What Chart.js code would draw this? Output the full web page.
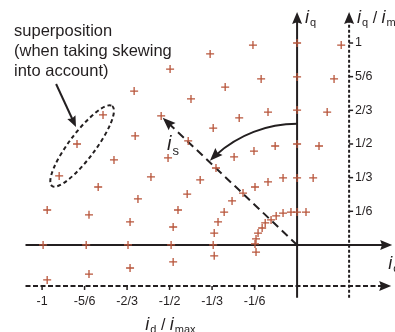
<!DOCTYPE html>
<html>
<head>
<meta charset="utf-8">
<script src="https://cdn.jsdelivr.net/npm/chart.js@4/dist/chart.umd.min.js"></script>
<style>
  html, body { margin: 0; padding: 0; background: #fff; }
  #wrap { width: 395px; height: 332px; }
</style>
</head>
<body>
<div id="wrap"><canvas id="c" width="395" height="332"></canvas></div>
<script>
// --- DATA (id / imax , iq / imax), one ring per current magnitude ---
const ring1_d   = [0.173, 0, -0.173, -0.341, -0.498, -0.639, -0.761, -0.863, -0.933, -0.980, -0.996, -0.980];
const ring1_q   = [0.990, 1.000, 0.990, 0.946, 0.871, 0.762, 0.644, 0.500, 0.342, 0.173, 0, -0.173];
const ring56_d  = [0.145, 0, -0.141, -0.282, -0.416, -0.533, -0.635, -0.718, -0.780, -0.816, -0.827, -0.816];
const ring56_q  = [0.822, 0.832, 0.822, 0.782, 0.723, 0.639, 0.540, 0.421, 0.287, 0.149, 0, -0.144];
const ring23_d  = [0.118, 0, -0.114, -0.227, -0.329, -0.427, -0.506, -0.573, -0.624, -0.655, -0.663, -0.655];
const ring23_q  = [0.658, 0.668, 0.658, 0.629, 0.579, 0.515, 0.431, 0.337, 0.228, 0.114, 0, -0.114];
const ring12_d  = [0.086, 0, -0.086, -0.169, -0.247, -0.318, -0.380, -0.431, -0.467, -0.486, -0.494, -0.486];
const ring12_q  = [0.490, 0.500, 0.490, 0.465, 0.436, 0.381, 0.322, 0.252, 0.173, 0.089, 0, -0.084];
const ring13_d  = [0.063, 0, -0.055, -0.114, -0.165, -0.212, -0.255, -0.286, -0.310, -0.325, -0.329, -0.325];
const ring13_q  = [0.332, 0.332, 0.332, 0.312, 0.287, 0.257, 0.218, 0.163, 0.114, 0.059, 0, -0.054];
const ring16_d  = [0.035, 0, -0.024, -0.055, -0.082, -0.102, -0.125, -0.137, -0.153, -0.161, -0.165, -0.161];
const ring16_q  = [0.163, 0.163, 0.163, 0.158, 0.144, 0.124, 0.109, 0.084, 0.059, 0.030, 0.005, -0.035];

const dTicks      = [-1, -5/6, -2/3, -1/2, -1/3, -1/6];
const dTickLabels = ['-1', '-5/6', '-2/3', '-1/2', '-1/3', '-1/6'];
const qTicks      = [1, 5/6, 2/3, 1/2, 1/3, 1/6];
const qTickLabels = ['1', '5/6', '2/3', '1/2', '1/3', '1/6'];

const noteLines = ['superposition', '(when taking skewing', 'into account)'];

// --- STYLE ---
const RED = '#b8553b';
const INK = '#231f20';
const FONT = '"Liberation Sans", Arial, sans-serif';

const rings = [
  [ring1_d, ring1_q], [ring56_d, ring56_q], [ring23_d, ring23_q],
  [ring12_d, ring12_q], [ring13_d, ring13_q], [ring16_d, ring16_q]
];
const points = [];
rings.forEach(([d, q]) => d.forEach((v, i) => points.push({ x: v, y: q[i] })));

// --- DRAW HELPERS ---
function arrowHead(ctx, x, y, ang, len, half) {
  ctx.save();
  ctx.translate(x, y);
  ctx.rotate(ang);
  ctx.beginPath();
  ctx.moveTo(0, 0);
  ctx.lineTo(-len, -half);
  ctx.lineTo(-len * 0.85, 0);
  ctx.lineTo(-len, half);
  ctx.closePath();
  ctx.fill();
  ctx.restore();
}

function line(ctx, x1, y1, x2, y2, dash) {
  ctx.save();
  ctx.setLineDash(dash || []);
  ctx.beginPath();
  ctx.moveTo(x1, y1);
  ctx.lineTo(x2, y2);
  ctx.stroke();
  ctx.restore();
}

// parts: [text, italic, size, dy]
function richText(ctx, x, y, parts) {
  let cx = x;
  parts.forEach(([t, it, size, dy]) => {
    ctx.font = (it ? 'italic ' : '') + size + 'px ' + FONT;
    ctx.fillText(t, cx, y + (dy || 0));
    cx += ctx.measureText(t).width + (it ? 1 : 0);
  });
}

const diagram = {
  id: 'diagram',
  beforeDatasetsDraw(chart) {
    const ctx = chart.ctx;
    const X = chart.scales.x, Y = chart.scales.y;
    const px = v => X.getPixelForValue(v);
    const py = v => Y.getPixelForValue(v);

    ctx.save();
    ctx.strokeStyle = INK;
    ctx.fillStyle = INK;
    ctx.lineWidth = 2;
    ctx.lineCap = 'butt';

    const ox = px(0), oy = py(0);
    const left = px(-1.065), right = px(0.373);
    const top = py(1.153), bottom = py(-0.262);

    // main axes
    line(ctx, left, oy, right - 8, oy);
    arrowHead(ctx, right, oy, 0, 12, 5);
    line(ctx, ox, bottom, ox, top + 8);
    arrowHead(ctx, ox, top, -Math.PI / 2, 12, 5);

    // normalised axes (dashed)
    const ax2 = px(0.204), ay2 = py(-0.203);
    line(ctx, left, ay2, right - 10, ay2, [5, 2.5]);
    arrowHead(ctx, right - 1, ay2, 0, 12, 5);
    line(ctx, ax2, bottom, ax2, top + 8, [3, 2]);
    arrowHead(ctx, ax2, top, -Math.PI / 2, 12, 5);

    // ticks + labels
    ctx.lineWidth = 1.5;
    ctx.font = '12.5px ' + FONT;
    ctx.textAlign = 'center';
    ctx.textBaseline = 'middle';
    dTicks.forEach((v, i) => {
      line(ctx, px(v), ay2, px(v), ay2 + 4);
      ctx.fillText(dTickLabels[i], px(v), ay2 + 16);
    });
    ctx.textAlign = 'left';
    qTicks.forEach((v, i) => {
      line(ctx, ax2, py(v), ax2 + 4, py(v));
      ctx.fillText(qTickLabels[i], ax2 + 6, py(v));
    });

    // i_s vector (dashed arrow from origin)
    ctx.lineWidth = 2;
    const sx = px(-0.527), sy = py(0.630);
    const ang = Math.atan2(sy - oy, sx - ox);
    line(ctx, ox, oy, sx - 9 * Math.cos(ang), sy - 9 * Math.sin(ang), [8, 5]);
    arrowHead(ctx, sx, sy, ang, 13, 5);

    // curved rotation arrow around origin
    const r = oy - py(0.6);
    const a0 = -Math.PI / 2, a1 = -136 * Math.PI / 180;
    ctx.beginPath();
    ctx.arc(ox, oy, r, a0, a1 + 0.07, true);
    ctx.stroke();
    const tx = ox + r * Math.cos(a1), ty = oy + r * Math.sin(a1);
    arrowHead(ctx, tx, ty, Math.atan2(-Math.cos(a1), Math.sin(a1)), 13, 5);

    // superposition ellipse
    const ex = px(-0.843), ey = py(0.490);
    ctx.save();
    ctx.setLineDash([4, 3]);
    ctx.beginPath();
    ctx.ellipse(ex, ey, 50, 13, -53 * Math.PI / 180, 0, Math.PI * 2);
    ctx.stroke();
    ctx.restore();

    // note arrow
    const n0x = px(-0.945), n0y = py(0.797);
    const n1x = px(-0.867), n1y = py(0.584);
    const na = Math.atan2(n1y - n0y, n1x - n0x);
    line(ctx, n0x, n0y, n1x - 8 * Math.cos(na), n1y - 8 * Math.sin(na));
    arrowHead(ctx, n1x, n1y, na, 11, 4.5);

    // texts
    ctx.textAlign = 'left';
    ctx.textBaseline = 'middle';
    ctx.font = '16.5px ' + FONT;
    noteLines.forEach((t, i) => ctx.fillText(t, px(-1.110), py(1.059) + i * 20));

    ctx.textBaseline = 'alphabetic';
    richText(ctx, ox + 8, top + 11, [['i', true, 18], ['q', false, 11, 3]]);
    richText(ctx, ax2 + 8, top + 11, [['i', true, 18], ['q', false, 11, 3], [' / ', false, 16], ['i', true, 18], ['max', false, 11, 3]]);
    richText(ctx, px(0.358), oy + 24, [['i', true, 18], ['d', false, 11, 3]]);
    richText(ctx, px(-0.595), py(-0.420), [['i', true, 18], ['d', false, 11, 3], [' / ', false, 16], ['i', true, 18], ['max', false, 11, 3]]);
    richText(ctx, px(-0.51), py(0.470), [['i', true, 20], ['s', false, 13, 5]]);

    ctx.restore();
  }
};

new Chart(document.getElementById('c').getContext('2d'), {
  type: 'scatter',
  data: {
    datasets: [{
      data: points,
      pointStyle: 'cross',
      pointRadius: 4,
      pointHoverRadius: 4,
      borderColor: RED,
      backgroundColor: RED,
      borderWidth: 1.3
    }]
  },
  options: {
    responsive: false,
    animation: false,
    devicePixelRatio: 1,
    layout: { padding: 0, autoPadding: false },
    clip: false,
    events: [],
    plugins: { legend: { display: false }, tooltip: { enabled: false } },
    scales: {
      x: { type: 'linear', min: -1.165, max: 0.384, display: false },
      y: { type: 'linear', min: -0.431, max: 1.213, display: false }
    }
  },
  plugins: [diagram]
});
</script>
</body>
</html>
